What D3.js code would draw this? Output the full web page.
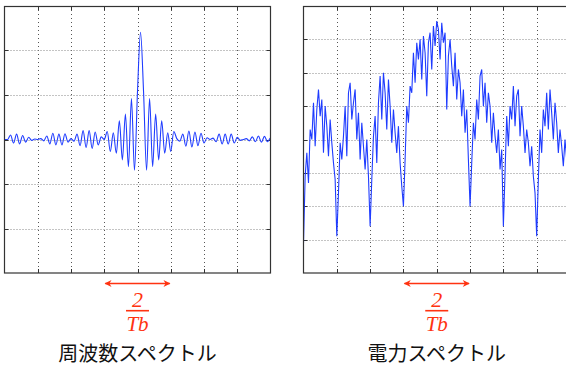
<!DOCTYPE html>
<html>
<head>
<meta charset="utf-8">
<script src="https://cdn.jsdelivr.net/npm/d3@7"></script>
<style>
  html, body { margin: 0; padding: 0; background: #fff; }
  svg { display: block; }
</style>
</head>
<body>
<svg id="chart" width="566" height="367"></svg>
<script>
// frequency spectrum (left) sampled every 1/11 of a grid division, x from -4 to 4
const freqStep = 1 / 11;
const freqValues = [
  0.0, 0.0, 0.1, -0.08, 0.12, -0.1, 0.09, -0.06, 0.05, -0.02, 0.01,
  0.0, 0.02, -0.03, 0.08, -0.1, 0.14, -0.12, 0.12, -0.12, 0.13, -0.06,
  0.02, -0.04, 0.12, -0.14, 0.2, -0.18, 0.2, -0.2, 0.17, -0.12, 0.06,
  0.0, 0.18, -0.27, 0.15, -0.31, 0.42, -0.46, 0.57, -0.61, 0.92, -0.69, 1.08,
  2.41,
  1.08, -0.69, 0.92, -0.61, 0.57, -0.46, 0.42, -0.31, 0.15, -0.27, 0.18,
  0.02, -0.04, 0.12, -0.15, 0.19, -0.17, 0.17, -0.14, 0.14, -0.08, 0.04,
  0.0, 0.03, -0.05, 0.12, -0.1, 0.12, -0.1, 0.12, -0.08, 0.05, -0.02,
  0.0, 0.02, -0.03, 0.06, -0.05, 0.08, -0.06, 0.07, -0.05, 0.03, 0.0, 0.0
];

// power spectrum (right) sampled every 1/20 of a grid division, x from -4 to 4
const powerStep = 1 / 20;
const powerValues = [
  0.9, 2.9, 3.6, 2.7, 4.3, 4.0, 5.1, 3.8, 4.9, 5.5, 4.7, 5.2, 3.6, 5.0, 4.4, 3.5, 4.6, 3.9, 3.3, 2.8,
  1.1, 2.4, 3.9, 3.4, 4.1, 5.0, 3.5, 5.4, 5.7, 4.6, 5.1, 5.5, 4.0, 4.8, 3.4, 4.5, 3.8, 3.1, 4.0, 2.9,
  1.4, 2.8, 4.1, 4.7, 3.3, 5.1, 5.9, 4.6, 6.0, 5.4, 4.3, 5.8, 5.0, 3.9, 4.9, 4.2, 3.6, 4.4, 3.3, 2.6,
  2.0, 3.4, 5.0, 4.5, 5.6, 5.4, 6.6, 5.7, 6.9, 6.4, 7.0, 5.8, 7.1, 6.6, 5.3, 6.9, 7.2, 6.1, 7.4, 6.8,
  7.55, 7.3, 6.4, 7.5, 6.9, 7.2, 4.9, 6.5, 7.0, 6.2, 5.6, 6.6, 5.2, 6.1, 5.7, 4.7, 5.5, 4.2, 4.9, 3.4,
  2.0, 3.3, 4.5, 4.0, 5.2, 4.6, 5.9, 6.1, 5.0, 5.7, 4.5, 5.4, 5.0, 3.9, 4.8, 4.1, 3.6, 4.3, 3.1, 3.7,
  1.4, 3.0, 4.7, 3.8, 5.0, 4.6, 5.6, 4.4, 5.3, 5.5, 4.1, 5.0, 4.4, 3.6, 4.3, 3.9, 3.2, 3.8, 2.9, 2.4,
  1.1, 2.8, 4.3, 3.6, 4.9, 4.4, 5.4, 4.3, 5.5, 4.8, 4.0, 5.1, 4.5, 3.6, 4.3, 3.8, 3.2, 4.0, 3.4, 2.9,
  1.0
];

const panelTitles = ["周波数スペクトル", "電力スペクトル"];
const bandLabelTop = "2";
const bandLabelBottom = "Tb";

const lineColor = "#1f3cff";
const red = "#ff3311";

const svg = d3.select("#chart");

svg.append("defs").append("marker")
  .attr("id", "arrow")
  .attr("viewBox", "0 0 10 10")
  .attr("refX", 9).attr("refY", 5)
  .attr("markerWidth", 9).attr("markerHeight", 7)
  .attr("markerUnits", "userSpaceOnUse")
  .attr("orient", "auto-start-reverse")
  .append("path")
  .attr("d", "M0,0 L10,5 L0,10 L3,5 Z")
  .attr("fill", red);

function drawPanel(opts) {
  const x = d3.scaleLinear().domain([-4, 4]).range([opts.left, opts.right]);
  const y = d3.scaleLinear().domain(opts.yDomain).range([273, 6]);
  const g = svg.append("g");

  const clipId = "clip" + opts.id;
  g.append("clipPath").attr("id", clipId)
    .append("rect")
    .attr("x", opts.left).attr("y", 6)
    .attr("width", opts.right - opts.left).attr("height", 267);

  const xt = d3.range(-3, 4);
  const yt = d3.range(opts.yDomain[0] + 1, opts.yDomain[1]);

  // dotted grid
  g.selectAll(".vg").data(xt).enter().append("line")
    .attr("x1", d => Math.round(x(d)) + 0.5).attr("x2", d => Math.round(x(d)) + 0.5)
    .attr("y1", 6).attr("y2", 273)
    .attr("stroke", "#555").attr("stroke-dasharray", "1,3");
  g.selectAll(".hg").data(yt).enter().append("line")
    .attr("x1", opts.left).attr("x2", opts.right)
    .attr("y1", d => Math.round(y(d)) + 0.5).attr("y2", d => Math.round(y(d)) + 0.5)
    .attr("stroke", "#888").attr("stroke-dasharray", "1,2");

  // inward ticks
  g.selectAll(".tb").data(xt).enter().append("line")
    .attr("x1", d => Math.round(x(d)) + 0.5).attr("x2", d => Math.round(x(d)) + 0.5)
    .attr("y1", 273).attr("y2", 269).attr("stroke", "#333");
  g.selectAll(".tt").data(xt).enter().append("line")
    .attr("x1", d => Math.round(x(d)) + 0.5).attr("x2", d => Math.round(x(d)) + 0.5)
    .attr("y1", 6).attr("y2", 10).attr("stroke", "#333");
  g.selectAll(".tl").data(yt).enter().append("line")
    .attr("x1", opts.left).attr("x2", opts.left + 4)
    .attr("y1", d => Math.round(y(d)) + 0.5).attr("y2", d => Math.round(y(d)) + 0.5)
    .attr("stroke", "#333");
  g.selectAll(".tr").data(yt).enter().append("line")
    .attr("x1", opts.right).attr("x2", opts.right - 4)
    .attr("y1", d => Math.round(y(d)) + 0.5).attr("y2", d => Math.round(y(d)) + 0.5)
    .attr("stroke", "#333");

  // signal
  const pts = opts.values.map((v, i) => [-4 + i * opts.step, v]);
  g.append("path")
    .datum(pts)
    .attr("clip-path", "url(#" + clipId + ")")
    .attr("fill", "none")
    .attr("stroke", lineColor)
    .attr("stroke-width", 1.1)
    .attr("d", d3.line().x(d => x(d[0])).y(d => y(d[1])).curve(opts.curve));

  // frame
  g.append("rect")
    .attr("x", opts.left).attr("y", 6.5)
    .attr("width", opts.right - opts.left).attr("height", 266.5)
    .attr("fill", "none").attr("stroke", "#333").attr("stroke-width", 1.2);

  // 2/Tb band marker between -1 and +1
  const ax1 = x(-1) + 1, ax2 = x(1) - 1, cx = x(0);
  g.append("line")
    .attr("x1", ax1).attr("x2", ax2).attr("y1", 283.5).attr("y2", 283.5)
    .attr("stroke", red).attr("stroke-width", 1.5)
    .attr("marker-start", "url(#arrow)").attr("marker-end", "url(#arrow)");
  g.append("text")
    .attr("x", cx).attr("y", 306.5)
    .attr("text-anchor", "middle")
    .attr("font-family", "'Liberation Serif', 'DejaVu Serif', serif")
    .attr("font-style", "italic").attr("font-size", 22)
    .attr("fill", red).text(bandLabelTop);
  g.append("line")
    .attr("x1", cx - 11.5).attr("x2", cx + 11.5).attr("y1", 310.7).attr("y2", 310.7)
    .attr("stroke", red).attr("stroke-width", 1.6);
  g.append("text")
    .attr("x", cx).attr("y", 330.5)
    .attr("text-anchor", "middle")
    .attr("font-family", "'Liberation Serif', 'DejaVu Serif', serif")
    .attr("font-style", "italic").attr("font-size", 21)
    .attr("fill", red).text(bandLabelBottom);

  // panel title
  g.append("text")
    .attr("x", cx).attr("y", 361)
    .attr("text-anchor", "middle")
    .attr("font-family", "'Noto Sans CJK JP', sans-serif")
    .attr("font-size", 20)
    .attr("fill", "#111").text(opts.title);
}

drawPanel({
  id: "L", left: 4.5, right: 270.5, yDomain: [-3, 3],
  values: freqValues, step: freqStep, curve: d3.curveMonotoneX, title: panelTitles[0]
});
drawPanel({
  id: "R", left: 303.5, right: 570, yDomain: [0, 8],
  values: powerValues, step: powerStep, curve: d3.curveLinear, title: panelTitles[1]
});
</script>
</body>
</html>
